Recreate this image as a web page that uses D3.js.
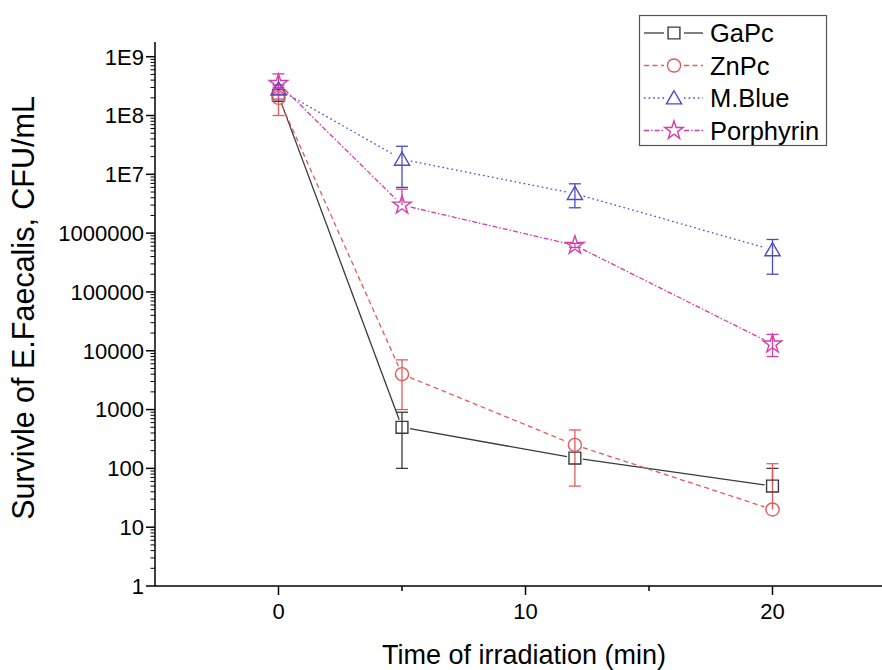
<!DOCTYPE html>
<html><head><meta charset="utf-8">
<script src="https://cdn.jsdelivr.net/npm/d3@7"></script>
<style>body{margin:0;background:#fff}svg{display:block}text{font-family:"Liberation Sans",Arial,sans-serif}</style>
</head><body><svg id="c" width="882" height="670"></svg>
<script>
const times = [0, 5, 12, 20];
const seriesNames = ["GaPc", "ZnPc", "M.Blue", "Porphyrin"];
const gapcVals = [2.2e8, 500, 150, 50];
const gapcErrUp = [0, 400, 0, 50];
const gapcErrDown = [0, 400, 0, 50];
const znpcVals = [2.0e8, 4000, 250, 20];
const znpcErrUp = [1e8, 3000, 200, 100];
const znpcErrDown = [1e8, 3000, 200, 100];
const mblueVals = [2.8e8, 1.8e7, 4.7e6, 5.2e5];
const mblueErrUp = [5e7, 1.2e7, 2.2e6, 2.6e5];
const mblueErrDown = [5e7, 1.2e7, 2.0e6, 3.2e5];
const porphVals = [3.5e8, 3.0e6, 6.2e5, 1.3e4];
const porphErrUp = [1.6e8, 2.6e6, 5e4, 6000];
const porphErrDown = [1.6e8, 0, 5e4, 5000];
const yTickVals = [1, 10, 100, 1000, 1e4, 1e5, 1e6, 1e7, 1e8, 1e9];
const yTickLabels = ["1", "10", "100", "1000", "10000", "100000", "1000000", "1E7", "1E8", "1E9"];
const xTickVals = [0, 10, 20];
const xMinorVals = [5, 15];

const styles = [
  {color: "#3a3a3a", dash: null, sym: d3.symbolSquare, size: 140},
  {color: "#e05c5c", dash: "5,3.5", sym: d3.symbolCircle, size: 135},
  {color: "#4b4bc8", dash: "1.6,3", sym: d3.symbolTriangle, size: 100},
  {color: "#d83ca8", dash: "5,2,1.5,2", sym: d3.symbolStar, size: 105}
];
const series = [
  {name: seriesNames[0], vals: gapcVals, up: gapcErrUp, down: gapcErrDown},
  {name: seriesNames[1], vals: znpcVals, up: znpcErrUp, down: znpcErrDown},
  {name: seriesNames[2], vals: mblueVals, up: mblueErrUp, down: mblueErrDown},
  {name: seriesNames[3], vals: porphVals, up: porphErrUp, down: porphErrDown}
];

const svg = d3.select("#c");
const x = d3.scaleLinear().domain([-5, 25]).range([155, 896]);
const y = d3.scaleLog().domain([1, Math.pow(10, 9.25)]).range([586, 42]);

// axes
const ax = svg.append("g");
ax.append("line").attr("x1", x(-5)).attr("x2", 882).attr("y1", y(1)).attr("y2", y(1)).attr("stroke", "#000").attr("stroke-width", 1.5);
ax.append("line").attr("x1", x(-5)).attr("x2", x(-5)).attr("y1", y(1)).attr("y2", y.range()[1]).attr("stroke", "#000").attr("stroke-width", 1.5);
// x ticks
xTickVals.forEach(v => {
  ax.append("line").attr("x1", x(v)).attr("x2", x(v)).attr("y1", y(1)).attr("y2", y(1) + 9).attr("stroke", "#000").attr("stroke-width", 1.5);
  ax.append("text").attr("x", x(v)).attr("y", y(1) + 33).attr("text-anchor", "middle").attr("font-size", 22).text(String(v));
});
xMinorVals.forEach(v => {
  ax.append("line").attr("x1", x(v)).attr("x2", x(v)).attr("y1", y(1)).attr("y2", y(1) + 5).attr("stroke", "#000").attr("stroke-width", 1.5);
});
// y ticks
yTickVals.forEach((v, i) => {
  ax.append("line").attr("x1", x(-5) - 9).attr("x2", x(-5)).attr("y1", y(v)).attr("y2", y(v)).attr("stroke", "#000").attr("stroke-width", 1.5);
  ax.append("text").attr("x", x(-5) - 11).attr("y", y(v)).attr("dy", "0.36em").attr("text-anchor", "end").attr("font-size", 22).text(yTickLabels[i]);
  for (let k = 2; k <= 9; k++) {
    const mv = v * k;
    if (mv > y.domain()[1]) break;
    ax.append("line").attr("x1", x(-5) - 4.5).attr("x2", x(-5)).attr("y1", y(mv)).attr("y2", y(mv)).attr("stroke", "#000").attr("stroke-width", 1);
  }
});
// titles
svg.append("text").attr("x", 524).attr("y", 664).attr("text-anchor", "middle").attr("font-size", 27).text("Time of irradiation (min)");
svg.append("text").attr("transform", "translate(34,308) rotate(-90)").attr("text-anchor", "middle").attr("font-size", 30.5).text("Survivle of E.Faecalis, CFU/mL");

const symGap = [8, 8.5, 9, 9];

// error bars
series.forEach((s, si) => {
  const st = styles[si];
  const g = svg.append("g").attr("stroke", st.color).attr("stroke-width", 1.3).attr("fill", "none");
  times.forEach((t, i) => {
    const v = s.vals[i];
    const cx = x(t);
    if (s.up[i] > 0) {
      const yt = y(v + s.up[i]);
      g.append("line").attr("x1", cx).attr("x2", cx).attr("y1", y(v)).attr("y2", yt);
      g.append("line").attr("x1", cx - 6).attr("x2", cx + 6).attr("y1", yt).attr("y2", yt);
    }
    if (s.down[i] > 0 && v - s.down[i] > 0) {
      const yb = y(v - s.down[i]);
      g.append("line").attr("x1", cx).attr("x2", cx).attr("y1", y(v)).attr("y2", yb);
      g.append("line").attr("x1", cx - 6).attr("x2", cx + 6).attr("y1", yb).attr("y2", yb);
    }
  });
});

// lines with gaps at markers
series.forEach((s, si) => {
  const st = styles[si];
  const g = svg.append("g");
  for (let i = 0; i < times.length - 1; i++) {
    const x1 = x(times[i]), y1 = y(s.vals[i]), x2 = x(times[i + 1]), y2 = y(s.vals[i + 1]);
    const L = Math.hypot(x2 - x1, y2 - y1), gp = symGap[si];
    const ux = (x2 - x1) / L, uy = (y2 - y1) / L;
    g.append("line").attr("x1", x1 + ux * gp).attr("y1", y1 + uy * gp).attr("x2", x2 - ux * gp).attr("y2", y2 - uy * gp)
      .attr("stroke", st.color).attr("stroke-width", 1.3).attr("stroke-dasharray", st.dash);
  }
});

// markers
series.forEach((s, si) => {
  const st = styles[si];
  const sym = d3.symbol().type(st.sym).size(st.size);
  svg.append("g").selectAll("path").data(times).join("path")
    .attr("transform", (t, i) => `translate(${x(t)},${y(s.vals[i]) + (st.sym === d3.symbolTriangle ? 1.5 : 0)})`)
    .attr("d", sym).attr("fill", "none").attr("stroke", st.color).attr("stroke-width", 1.4);
});

// legend
const lg = svg.append("g");
lg.append("rect").attr("x", 639.5).attr("y", 15.5).attr("width", 187).attr("height", 130).attr("fill", "#fff").attr("stroke", "#555").attr("stroke-width", 1.2);
series.forEach((s, si) => {
  const st = styles[si];
  const cy = 33 + si * 32.5;
  lg.append("line").attr("x1", 644).attr("x2", 664).attr("y1", cy).attr("y2", cy).attr("stroke", st.color).attr("stroke-width", 1.3).attr("stroke-dasharray", st.dash);
  lg.append("line").attr("x1", 684).attr("x2", 703).attr("y1", cy).attr("y2", cy).attr("stroke", st.color).attr("stroke-width", 1.3).attr("stroke-dasharray", st.dash);
  lg.append("path").attr("transform", `translate(674,${cy + (st.sym === d3.symbolTriangle ? 1.5 : 0)})`).attr("d", d3.symbol().type(st.sym).size(st.size)())
    .attr("fill", "none").attr("stroke", st.color).attr("stroke-width", 1.4);
  lg.append("text").attr("x", 710).attr("y", cy).attr("dy", "0.36em").attr("font-size", 25.5).text(s.name);
});
</script></body></html>
